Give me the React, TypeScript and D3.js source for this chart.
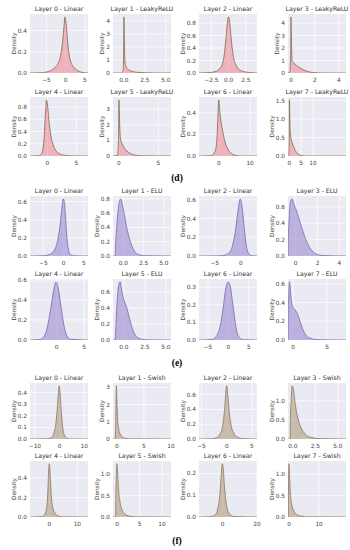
import React from "react";
import * as d3 from "d3";

// ---------- data: (d) LeakyReLU network ----------
const dTitles = ["Layer 0 - Linear", "Layer 1 - LeakyReLU", "Layer 2 - Linear", "Layer 3 - LeakyReLU",
  "Layer 4 - Linear", "Layer 5 - LeakyReLU", "Layer 6 - Linear", "Layer 7 - LeakyReLU"];
const dXDomains = [[-9.3, 5.8], [-1.3, 5.6], [-4.3, 4.1], [-0.25, 4.6], [-3, 7], [-0.75, 6.6], [-6.3, 12.2], [-0.6, 24]];
const dXTicks = [["-5", "0", "5"], ["0.0", "2.5", "5.0"], ["-2.5", "0.0", "2.5"], ["0", "2", "4"],
  ["0", "5"], ["0", "5"], ["0", "10"], ["0", "5", "10"]];
const dYTicks = [["0.0", "0.2", "0.4"], ["0", "1", "2", "3", "4"], ["0.0", "0.2", "0.4", "0.6", "0.8"], ["0", "1", "2", "3", "4"],
  ["0.0", "0.2", "0.4", "0.6", "0.8"], ["0", "1", "2", "3"], ["0.0", "0.2", "0.4"], ["0.0", "0.5", "1.0", "1.5"]];
const d0 = [[-9.3, 0], [-6, 0.003], [-5, 0.01], [-4, 0.02], [-3, 0.045], [-2, 0.09], [-1.3, 0.17], [-0.8, 0.3], [-0.4, 0.46], [-0.2, 0.53], [0, 0.5], [0.3, 0.38], [0.7, 0.22], [1.2, 0.12], [2, 0.06], [3, 0.025], [4, 0.008], [5, 0.002], [5.8, 0]];
const d1 = [[-1.3, 0], [-0.3, 0], [-0.1, 0.2], [-0.03, 2], [0, 4.3], [0.04, 3], [0.1, 1.2], [0.2, 0.6], [0.4, 0.35], [0.7, 0.2], [1, 0.12], [1.5, 0.06], [2.5, 0.02], [4, 0], [5.6, 0]];
const d2 = [[-4.3, 0], [-3, 0.005], [-2, 0.02], [-1.2, 0.08], [-0.7, 0.25], [-0.35, 0.6], [-0.1, 0.88], [0, 0.9], [0.15, 0.8], [0.4, 0.5], [0.7, 0.25], [1.1, 0.12], [1.6, 0.05], [2.5, 0.015], [3.5, 0.003], [4.1, 0]];
const d3c = [[-0.25, 0], [-0.1, 0.05], [-0.03, 1.5], [0, 4.5], [0.05, 2], [0.1, 0.95], [0.3, 0.75], [0.6, 0.5], [1, 0.28], [1.4, 0.12], [1.8, 0.04], [2.3, 0.01], [3, 0], [4.6, 0]];
const d4 = [[-3, 0], [-1.5, 0.005], [-1, 0.04], [-0.6, 0.25], [-0.3, 0.75], [-0.15, 0.92], [0, 0.85], [0.3, 0.55], [0.6, 0.33], [1, 0.18], [1.5, 0.08], [2, 0.04], [3, 0.01], [4, 0.002], [7, 0]];
const d5 = [[-0.75, 0], [-0.2, 0.02], [-0.05, 1], [0, 3.6], [0.08, 2.2], [0.2, 1.1], [0.4, 0.8], [0.7, 0.5], [1, 0.32], [1.5, 0.15], [2, 0.06], [3, 0.01], [6.6, 0]];
const d6 = [[-6.3, 0], [-3, 0.002], [-2, 0.01], [-1, 0.06], [-0.5, 0.2], [-0.2, 0.42], [0, 0.52], [0.3, 0.42], [0.7, 0.32], [1.2, 0.24], [2, 0.13], [3, 0.06], [4, 0.025], [5, 0.008], [7, 0], [12.2, 0]];
const d7 = [[-0.6, 0], [-0.2, 0.05], [-0.05, 0.6], [0, 1.52], [0.15, 1.0], [0.4, 0.6], [0.8, 0.45], [1.5, 0.3], [2.5, 0.15], [3.5, 0.06], [5, 0.015], [7, 0], [24, 0]];
const dCurves = [d0, d1, d2, d3c, d4, d5, d6, d7];

// ---------- data: (e) ELU network ----------
const eTitles = ["Layer 0 - Linear", "Layer 1 - ELU", "Layer 2 - Linear", "Layer 3 - ELU",
  "Layer 4 - Linear", "Layer 5 - ELU", "Layer 6 - Linear", "Layer 7 - ELU"];
const eXDomains = [[-8.3, 6], [-1.3, 5.9], [-8, 3.1], [-0.7, 4.6], [-4.8, 5.7], [-1.3, 5.6], [-7.2, 7], [-0.75, 7.8]];
const eXTicks = [["-5", "0", "5"], ["0.0", "2.5", "5.0"], ["-5", "0"], ["0", "2", "4"],
  ["0", "5"], ["0.0", "2.5", "5.0"], ["-5", "0", "5"], ["0", "5"]];
const eYTicks = [["0.0", "0.2", "0.4", "0.6"], ["0.0", "0.2", "0.4", "0.6", "0.8"], ["0.0", "0.2", "0.4", "0.6"], ["0.0", "0.2", "0.4", "0.6"],
  ["0.0", "0.2", "0.4", "0.6"], ["0.0", "0.2", "0.4", "0.6"], ["0.0", "0.1", "0.2", "0.3"], ["0.0", "0.2", "0.4", "0.6"]];
const e0 = [[-8.3, 0], [-5, 0.003], [-4, 0.01], [-3, 0.03], [-2, 0.09], [-1.5, 0.17], [-1, 0.3], [-0.5, 0.5], [-0.1, 0.63], [0.2, 0.58], [0.5, 0.4], [0.8, 0.2], [1.2, 0.07], [1.7, 0.015], [2.5, 0.002], [6, 0]];
const e1 = [[-1.3, 0], [-1, 0], [-0.99, 0.12], [-0.9, 0.3], [-0.7, 0.6], [-0.5, 0.76], [-0.35, 0.8], [-0.1, 0.7], [0.2, 0.52], [0.5, 0.35], [0.8, 0.22], [1.2, 0.1], [1.7, 0.03], [2.5, 0.005], [5.9, 0]];
const e2 = [[-8, 0], [-4, 0.002], [-3, 0.01], [-2, 0.05], [-1.5, 0.13], [-1, 0.28], [-0.5, 0.5], [-0.1, 0.61], [0.3, 0.5], [0.7, 0.28], [1.1, 0.1], [1.6, 0.02], [2.2, 0.003], [3.1, 0]];
const e3 = [[-0.7, 0], [-0.69, 0.15], [-0.6, 0.45], [-0.45, 0.68], [-0.35, 0.7], [-0.2, 0.65], [0, 0.58], [0.3, 0.46], [0.6, 0.33], [1, 0.18], [1.4, 0.08], [1.8, 0.03], [2.5, 0.005], [4.6, 0]];
const e4 = [[-4.8, 0], [-3, 0.005], [-2.2, 0.04], [-1.5, 0.17], [-1, 0.33], [-0.5, 0.5], [-0.1, 0.58], [0.3, 0.52], [0.8, 0.34], [1.3, 0.16], [1.8, 0.05], [2.5, 0.008], [5.7, 0]];
const e5 = [[-1.3, 0], [-1.05, 0], [-0.95, 0.2], [-0.8, 0.5], [-0.6, 0.7], [-0.45, 0.73], [-0.25, 0.62], [0, 0.5], [0.3, 0.42], [0.6, 0.3], [0.9, 0.18], [1.3, 0.07], [1.8, 0.02], [2.5, 0.003], [5.6, 0]];
const e6 = [[-7.2, 0], [-4, 0.003], [-3, 0.02], [-2, 0.08], [-1.3, 0.18], [-0.6, 0.3], [0, 0.33], [0.5, 0.3], [1.1, 0.2], [1.8, 0.08], [2.5, 0.02], [3.5, 0.002], [7, 0]];
const e7 = [[-0.75, 0], [-0.74, 0.18], [-0.65, 0.45], [-0.55, 0.62], [-0.45, 0.58], [-0.3, 0.45], [-0.1, 0.36], [0.2, 0.33], [0.5, 0.3], [0.9, 0.23], [1.3, 0.14], [1.8, 0.06], [2.5, 0.02], [3.5, 0.004], [7.8, 0]];
const eCurves = [e0, e1, e2, e3, e4, e5, e6, e7];

// ---------- data: (f) Swish network ----------
const fTitles = ["Layer 0 - Linear", "Layer 1 - Swish", "Layer 2 - Linear", "Layer 3 - Swish",
  "Layer 4 - Linear", "Layer 5 - Swish", "Layer 6 - Linear", "Layer 7 - Swish"];
const fXDomains = [[-12, 11.5], [-0.7, 10], [-5.5, 6], [-0.55, 5.9], [-6.9, 13.8], [-0.9, 12], [-13.7, 20], [-0.4, 19]];
const fXTicks = [["-10", "0", "10"], ["0", "5", "10"], ["-5", "0", "5"], ["0.0", "2.5", "5.0"],
  ["0", "10"], ["0", "5", "10"], ["0", "20"], ["0", "10"]];
const fYTicks = [["0.0", "0.1", "0.2", "0.3", "0.4"], ["0", "1", "2", "3"], ["0.0", "0.2", "0.4", "0.6"], ["0.0", "0.5", "1.0"],
  ["0.0", "0.2", "0.4"], ["0.0", "0.5", "1.0"], ["0.0", "0.1", "0.2"], ["0.0", "0.5", "1.0"]];
const f0 = [[-12, 0], [-5, 0.002], [-3.5, 0.01], [-2.5, 0.04], [-1.6, 0.12], [-1, 0.25], [-0.5, 0.4], [-0.2, 0.46], [0.2, 0.4], [0.6, 0.26], [1.1, 0.13], [1.8, 0.04], [2.8, 0.008], [4, 0.001], [11.5, 0]];
const f1 = [[-0.7, 0], [-0.3, 0], [-0.25, 0.3], [-0.15, 2], [-0.08, 3.1], [0, 2.5], [0.15, 1.2], [0.35, 0.6], [0.6, 0.3], [1, 0.12], [1.5, 0.04], [2.5, 0.008], [10, 0]];
const f2 = [[-5.5, 0], [-3, 0.003], [-2, 0.02], [-1.3, 0.07], [-0.8, 0.18], [-0.4, 0.42], [-0.15, 0.66], [0, 0.72], [0.2, 0.6], [0.5, 0.36], [0.9, 0.17], [1.4, 0.08], [2, 0.03], [3, 0.006], [6, 0]];
const f3 = [[-0.55, 0], [-0.3, 0], [-0.29, 0.5], [-0.2, 1.0], [-0.08, 1.4], [0.05, 1.3], [0.3, 0.85], [0.6, 0.5], [1, 0.25], [1.5, 0.1], [2, 0.04], [3, 0.01], [5.9, 0]];
const f4 = [[-6.9, 0], [-3, 0.003], [-2, 0.015], [-1.2, 0.06], [-0.6, 0.22], [-0.25, 0.48], [0, 0.55], [0.3, 0.44], [0.7, 0.22], [1.2, 0.1], [2, 0.04], [3, 0.012], [4.5, 0.002], [13.8, 0]];
const f5 = [[-0.9, 0], [-0.3, 0], [-0.27, 0.4], [-0.15, 1.0], [-0.05, 1.25], [0.1, 1.1], [0.3, 0.7], [0.6, 0.4], [1, 0.2], [1.5, 0.1], [2, 0.05], [3, 0.015], [4.5, 0.003], [12, 0]];
const f6 = [[-13.7, 0], [-8, 0.001], [-5, 0.006], [-3.5, 0.02], [-2.5, 0.05], [-1.5, 0.11], [-0.7, 0.2], [-0.2, 0.245], [0.3, 0.23], [1, 0.15], [2, 0.07], [3, 0.03], [4.5, 0.01], [7, 0.002], [20, 0]];
const f7 = [[-0.4, 0], [-0.28, 0], [-0.25, 0.5], [-0.1, 1.25], [0.1, 1.0], [0.4, 0.55], [0.8, 0.32], [1.5, 0.15], [2.5, 0.06], [4, 0.02], [6, 0.004], [19, 0]];
const fCurves = [f0, f1, f2, f3, f4, f5, f6, f7];

// ---------- layout ----------
const W = 350, H = 550;
const colLeft = [30, 113, 199, 288];
const colWidth = 58;
const rowTop = [14, 97, 196, 279, 383, 461];
const rowBottom = [73, 156, 256, 340, 439, 517];
const BG = "#EAEAF2";
const FONT = "DejaVu Sans, sans-serif";

const groups = [
  { label: "(d)", labelY: 181, titles: dTitles, xd: dXDomains, xt: dXTicks, yt: dYTicks, curves: dCurves, fill: "rgba(240,110,125,0.45)", line: "#7d6a4a", rows: [0, 1] },
  { label: "(e)", labelY: 366, titles: eTitles, xd: eXDomains, xt: eXTicks, yt: eYTicks, curves: eCurves, fill: "rgba(150,130,205,0.55)", line: "#7a68ad", rows: [2, 3] },
  { label: "(f)", labelY: 544, titles: fTitles, xd: fXDomains, xt: fXTicks, yt: fYTicks, curves: fCurves, fill: "rgba(178,155,125,0.6)", line: "#8a7660", rows: [4, 5] },
];

const fmt = (s: string) => s.replace("-", "\u2212");
const labelWidth = (s: string) =>
  fmt(s).split("").reduce((w, c) => w + (c === "." ? 1.85 : c === "\u2212" ? 4.9 : 3.7), 0);

function Panel({ id, left, top, bottom, title, xDomain, xTicks, yTicks, curve, fill, line }: any) {
  const right = left + colWidth;
  const x = d3.scaleLinear().domain(xDomain).range([left, right]);
  const yMax = d3.max(curve, (d: number[]) => d[1]) * 1.05;
  const y = d3.scaleLinear().domain([0, yMax]).range([bottom, top]);
  const area = d3.area<number[]>().x(d => x(d[0])).y0(bottom).y1(d => y(d[1])).curve(d3.curveMonotoneX);
  const ln = d3.line<number[]>().x(d => x(d[0])).y(d => y(d[1])).curve(d3.curveMonotoneX);
  const maxW = d3.max(yTicks, (t: string) => labelWidth(t));
  return (
    <g>
      <defs>
        <clipPath id={`clip-${id}`}>
          <rect x={left} y={top} width={colWidth} height={bottom - top} />
        </clipPath>
      </defs>
      <rect x={left} y={top} width={colWidth} height={bottom - top} fill={BG} />
      {xTicks.map((t: string) => (
        <line key={"gx" + t} x1={x(+t)} x2={x(+t)} y1={top} y2={bottom} stroke="#fff" strokeWidth={0.7} />
      ))}
      {yTicks.map((t: string) => (
        <line key={"gy" + t} x1={left} x2={right} y1={y(+t)} y2={y(+t)} stroke="#fff" strokeWidth={0.7} />
      ))}
      <g clipPath={`url(#clip-${id})`}>
        <path d={area(curve)} fill={fill} />
        <path d={ln(curve)} fill="none" stroke={line} strokeWidth={0.8} />
      </g>
      <text x={(left + right) / 2} y={top - 3} textAnchor="middle" fontSize={6.2} fill="#333" fontFamily={FONT}>{title}</text>
      {xTicks.map((t: string) => (
        <text key={"tx" + t} x={x(+t)} y={bottom + 8.5} textAnchor="middle" fontSize={5.8} fill="#444" fontFamily={FONT}>{fmt(t)}</text>
      ))}
      {yTicks.map((t: string) => (
        <text key={"ty" + t} x={left - 3} y={y(+t) + 2} textAnchor="end" fontSize={5.8} fill="#444" fontFamily={FONT}>{fmt(t)}</text>
      ))}
      <text transform={`translate(${left - maxW - 5},${(top + bottom) / 2}) rotate(-90)`} textAnchor="middle"
        fontSize={5.8} fill="#444" fontFamily={FONT}>Density</text>
    </g>
  );
}

export default function App() {
  return (
    <svg width={W} height={H} style={{ display: "block", position: "absolute", left: 0, top: 0, background: "#fff" }}>
      {groups.map((g, gi) => (
        <g key={gi}>
          {g.titles.map((title, i) => {
            const r = g.rows[Math.floor(i / 4)];
            const c = i % 4;
            return (
              <Panel key={i} id={`${gi}-${i}`} left={colLeft[c]} top={rowTop[r]} bottom={rowBottom[r]}
                title={title} xDomain={g.xd[i]} xTicks={g.xt[i]} yTicks={g.yt[i]} curve={g.curves[i]}
                fill={g.fill} line={g.line} />
            );
          })}
          <text x={177} y={g.labelY} textAnchor="middle" fontSize={9.5} fontWeight="bold"
            fontFamily="Liberation Serif, serif" fill="#000">{g.label}</text>
        </g>
      ))}
    </svg>
  );
}
